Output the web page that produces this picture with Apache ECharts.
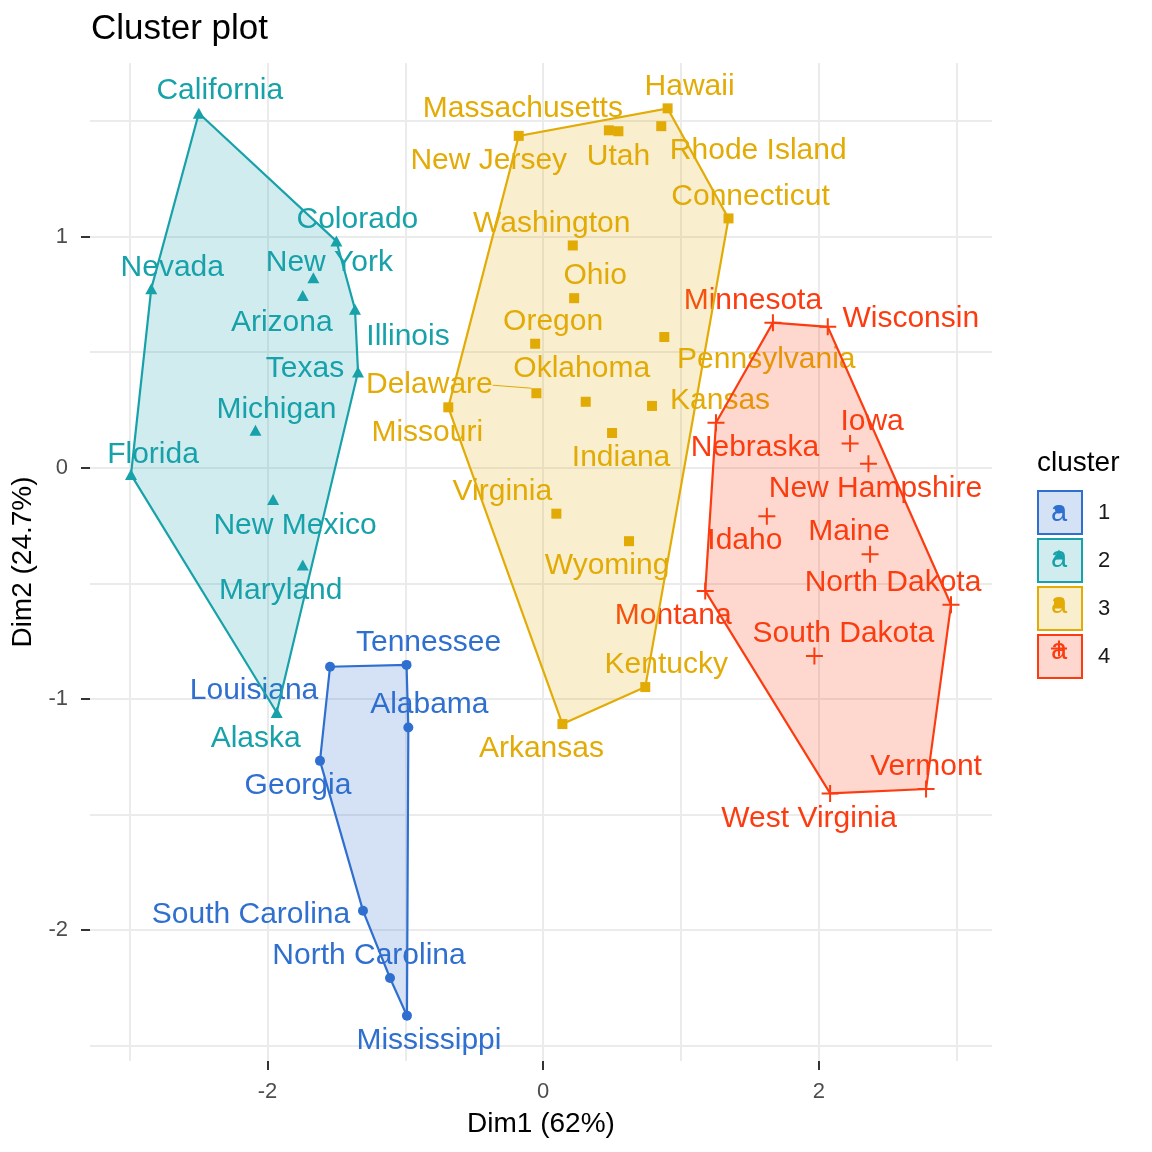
<!DOCTYPE html>
<html><head><meta charset="utf-8">
<script src="https://cdn.jsdelivr.net/npm/echarts@6/dist/echarts.min.js"></script>
<style>html,body{margin:0;padding:0;background:#fff}#c{width:1152px;height:1152px}</style>
</head><body><div id="c"></div>
<script>
// ---- data ----
const states = ['Alabama','Georgia','Louisiana','Mississippi','North Carolina','South Carolina','Tennessee',
  'Alaska','Arizona','California','Colorado','Florida','Illinois','Maryland','Michigan','Nevada','New Mexico','New York','Texas',
  'Arkansas','Connecticut','Delaware','Hawaii','Indiana','Kansas','Kentucky','Massachusetts','Missouri','New Jersey','Ohio','Oklahoma','Oregon','Pennsylvania','Rhode Island','Utah','Virginia','Washington','Wyoming',
  'Idaho','Iowa','Maine','Minnesota','Montana','Nebraska','New Hampshire','North Dakota','South Dakota','Vermont','West Virginia','Wisconsin'];
const dim1 = [-0.978,-1.619,-1.546,-0.988,-1.111,-1.307,-0.991,
  -1.933,-1.744,-2.498,-1.500,-2.990,-1.365,-1.744,-2.087,-2.843,-1.959,-1.667,-1.343,
  0.140,1.345,-0.049,0.903,0.500,0.790,0.741,0.477,-0.688,-0.177,0.225,0.309,-0.058,0.879,0.857,0.546,0.096,0.215,0.623,
  1.623,2.227,2.372,1.667,1.176,1.254,2.360,2.959,1.968,2.778,2.082,2.065];
const dim2 = [-1.124,-1.268,-0.861,-2.370,-2.207,-1.916,-0.853,
  -1.059,0.745,1.533,0.980,-0.030,0.685,-0.421,0.162,0.774,-0.138,0.821,0.414,
  -1.109,1.078,0.322,1.554,0.150,0.267,-0.949,1.459,0.261,1.435,0.733,0.285,0.536,0.565,1.477,1.455,-0.199,0.961,-0.318,
  -0.210,0.104,-0.374,0.627,-0.533,0.194,0.017,-0.593,-0.815,-1.390,-1.409,0.609];
const clusterOf = [1,1,1,1,1,1,1, 2,2,2,2,2,2,2,2,2,2,2,2, 3,3,3,3,3,3,3,3,3,3,3,3,3,3,3,3,3,3,3, 4,4,4,4,4,4,4,4,4,4,4,4];
const clusterNames = ['1','2','3','4'];
const xTickValues = [-2, 0, 2];
const xGridValues = [-3, -2, -1, 0, 1, 2, 3];
const yTickValues = [-2, -1, 0, 1];
const yGridValues = [-2.5, -2, -1.5, -1, -0.5, 0, 0.5, 1, 1.5];

// ---- layout / style (pixel offsets of repelled labels) ----
const labelOffsets = {
  'California':[21,-22],'Colorado':[21,-21],'New York':[16,-15],'Arizona':[-21,27],'Illinois':[53,27],'Nevada':[21,-21],
  'Texas':[-53,-3],'Michigan':[21,-20],'Florida':[22,-20],'New Mexico':[22,26],'Maryland':[-22,26],'Alaska':[-21,26],
  'Tennessee':[22,-22],'Louisiana':[-76,24],'Alabama':[21,-23],'Georgia':[-22,25],'South Carolina':[-112,4],'North Carolina':[-21,-22],'Mississippi':[22,25],
  'Hawaii':[22,-22],'Massachusetts':[-86,-22],'New Jersey':[-30,25],'Utah':[0,25],'Rhode Island':[97,25],'Connecticut':[22,-22],
  'Washington':[-21,-22],'Ohio':[21,-22],'Oregon':[18,-22],'Pennsylvania':[102,23],'Oklahoma':[-4,-33],'Delaware':[-107,-8],
  'Kansas':[68,-5],'Missouri':[-21,25],'Indiana':[9,25],'Virginia':[-54,-22],'Wyoming':[-22,25],'Kentucky':[21,-22],'Arkansas':[-21,25],
  'Minnesota':[-20,-22],'Wisconsin':[83,-8],'Iowa':[22,-22],'Nebraska':[39,25],'New Hampshire':[7,25],'Idaho':[-22,25],'Maine':[-21,-22],
  'North Dakota':[-58,-22],'Montana':[-32,25],'South Dakota':[29,-22],'Vermont':[0,-22],'West Virginia':[-21,25]
};
const colors = ['#2F6FCF', '#17A2AA', '#E3AB06', '#FC3C10'];
const fills = ['rgba(47,111,207,0.2)', 'rgba(23,162,170,0.2)', 'rgba(227,171,6,0.2)', 'rgba(252,60,16,0.2)'];
const plusPath = 'path://M7.5,0 H9.5 V7.5 H17 V9.5 H9.5 V17 H7.5 V9.5 H0 V7.5 H7.5 Z';
const symbols = ['circle', 'triangle', 'rect', plusPath];
const symbolSizes = [10, [12, 11], 10, 17];
const FONT = '"Liberation Sans", Arial, Helvetica, sans-serif';

function convexHull(points) {
  const pts = points.slice().sort((a, b) => a[0] - b[0] || a[1] - b[1]);
  const cross = (o, a, b) => (a[0] - o[0]) * (b[1] - o[1]) - (a[1] - o[1]) * (b[0] - o[0]);
  const lower = [], upper = [];
  for (const p of pts) { while (lower.length >= 2 && cross(lower[lower.length - 2], lower[lower.length - 1], p) <= 0) lower.pop(); lower.push(p); }
  for (let i = pts.length - 1; i >= 0; i--) { const p = pts[i]; while (upper.length >= 2 && cross(upper[upper.length - 2], upper[upper.length - 1], p) <= 0) upper.pop(); upper.push(p); }
  lower.pop(); upper.pop();
  return lower.concat(upper);
}

const xmin0 = Math.min(...dim1), xmax0 = Math.max(...dim1);
const ymin0 = Math.min(...dim2), ymax0 = Math.max(...dim2);
const xpad = (xmax0 - xmin0) * 0.05, ypad = (ymax0 - ymin0) * 0.05;
const xMin = xmin0 - xpad, xMax = xmax0 + xpad, yMin = ymin0 - ypad, yMax = ymax0 + ypad;

const series = [];
clusterNames.forEach((cn, k) => {
  const idx = [];
  clusterOf.forEach((c, i) => { if (c === k + 1) idx.push(i); });
  const pts = idx.map(i => [dim1[i], dim2[i]]);
  const hull = convexHull(pts);
  series.push({
    type: 'custom', name: cn, coordinateSystem: 'cartesian2d', xAxisIndex: 0, yAxisIndex: 0,
    z: 4, silent: true, data: [hull[0]],
    renderItem: (params, api) => ({
      type: 'polygon',
      shape: { points: hull.map(p => api.coord(p)) },
      style: { fill: fills[k], stroke: colors[k], lineWidth: 2.2 }
    })
  });
  series.push({
    type: 'scatter', name: cn, xAxisIndex: 0, yAxisIndex: 0, z: 3,
    symbol: symbols[k], symbolSize: symbolSizes[k],
    itemStyle: { color: colors[k], opacity: 1 },
    data: idx.map(i => {
      const d = { name: states[i], value: [dim1[i], dim2[i]] };
      if (states[i] === 'Delaware') d.labelLine = { show: true, length2: 0, lineStyle: { color: colors[k], width: 1 } };
      return d;
    }),
    label: { show: true, position: 'inside', formatter: '{b}', color: colors[k], fontSize: 30, fontFamily: FONT },
    labelLine: { show: false },
    labelLayout: (params) => {
      const nm = states[idx[params.dataIndex]];
      const o = labelOffsets[nm] || [0, -22];
      return { dx: o[0], dy: o[1] };
    },
    emphasis: { disabled: true }
  });
});

// legend key decorations
const legendTop = 490, keyH = 43, keyGap = 3, keyCx = 1059;
const graphics = [];
clusterNames.forEach((cn, k) => {
  const cy = legendTop + k * (keyH + keyGap) + keyH / 2;
  graphics.push({ type: 'text', x: keyCx, y: cy + 1, z: 100,
    style: { text: 'a', fill: colors[k], font: '29px ' + FONT, align: 'center', verticalAlign: 'middle' } });
  if (k === 0) graphics.push({ type: 'circle', shape: { cx: keyCx, cy: cy - 2, r: 4 }, style: { fill: colors[k] }, z: 101 });
  if (k === 1) graphics.push({ type: 'polygon', shape: { points: [[keyCx, cy - 8], [keyCx - 6, cy + 2], [keyCx + 6, cy + 2]] }, style: { fill: colors[k] }, z: 101 });
  if (k === 2) graphics.push({ type: 'rect', shape: { x: keyCx - 5, y: cy - 5, width: 10, height: 10 }, style: { fill: colors[k] }, z: 101 });
  if (k === 3) graphics.push({ type: 'polyline', shape: { points: [[keyCx - 8, cy - 1], [keyCx + 8, cy - 1]] }, style: { stroke: colors[k], lineWidth: 2 }, z: 101 },
                              { type: 'polyline', shape: { points: [[keyCx, cy - 9], [keyCx, cy + 7]] }, style: { stroke: colors[k], lineWidth: 2 }, z: 101 });
});

const chart = echarts.init(document.getElementById('c'), null, { renderer: 'canvas' });
chart.setOption({
  animation: false,
  backgroundColor: '#ffffff',
  textStyle: { fontFamily: FONT },
  title: [
    { text: 'Cluster plot', left: 91, top: 12, padding: 0, textStyle: { fontSize: 35, fontWeight: 'normal', color: '#000', fontFamily: FONT } },
    { text: 'cluster', left: 1037, top: 449, padding: 0, textStyle: { fontSize: 28, fontWeight: 'normal', color: '#000', fontFamily: FONT } }
  ],
  legend: {
    orient: 'vertical', left: 1037, top: legendTop, padding: 0,
    itemWidth: 44, itemHeight: keyH, itemGap: keyGap, selectedMode: false,
    textStyle: { fontSize: 22, color: '#1a1a1a', padding: [0, 0, 0, 11], fontFamily: FONT },
    data: clusterNames.map((cn, k) => ({ name: cn, icon: 'rect', itemStyle: { color: fills[k], borderColor: colors[k], borderWidth: 2 } }))
  },
  grid: { left: 90, right: 160, top: 63, bottom: 91, containLabel: false, outerBoundsMode: 'none' },
  xAxis: [
    { type: 'value', min: xMin, max: xMax, position: 'bottom',
      name: 'Dim1 (62%)', nameLocation: 'middle', nameGap: 49, nameTextStyle: { fontSize: 28, color: '#000', fontFamily: FONT },
      axisLine: { show: false, onZero: false },
      axisTick: { show: true, customValues: xTickValues, length: 9, lineStyle: { color: '#333', width: 2 } },
      axisLabel: { customValues: xTickValues, fontSize: 22, color: '#4d4d4d', margin: 20, fontFamily: FONT },
      splitLine: { show: false } },
    { type: 'value', min: xMin, max: xMax, position: 'bottom',
      axisLine: { show: false, onZero: false }, axisLabel: { show: false },
      axisTick: { show: false, customValues: xGridValues },
      splitLine: { show: true, lineStyle: { color: '#EBEBEB', width: 2 } } }
  ],
  yAxis: [
    { type: 'value', min: yMin, max: yMax, position: 'left',
      name: 'Dim2 (24.7%)', nameLocation: 'middle', nameGap: 48, nameTextStyle: { fontSize: 28, color: '#000', fontFamily: FONT },
      axisLine: { show: false, onZero: false },
      axisTick: { show: true, customValues: yTickValues, length: 9, lineStyle: { color: '#333', width: 2 } },
      axisLabel: { customValues: yTickValues, fontSize: 22, color: '#4d4d4d', margin: 22, fontFamily: FONT },
      splitLine: { show: false } },
    { type: 'value', min: yMin, max: yMax, position: 'left',
      axisLine: { show: false, onZero: false }, axisLabel: { show: false },
      axisTick: { show: false, customValues: yGridValues },
      splitLine: { show: true, lineStyle: { color: '#EBEBEB', width: 2 } } }
  ],
  graphic: graphics,
  series: series
});
</script></body></html>
